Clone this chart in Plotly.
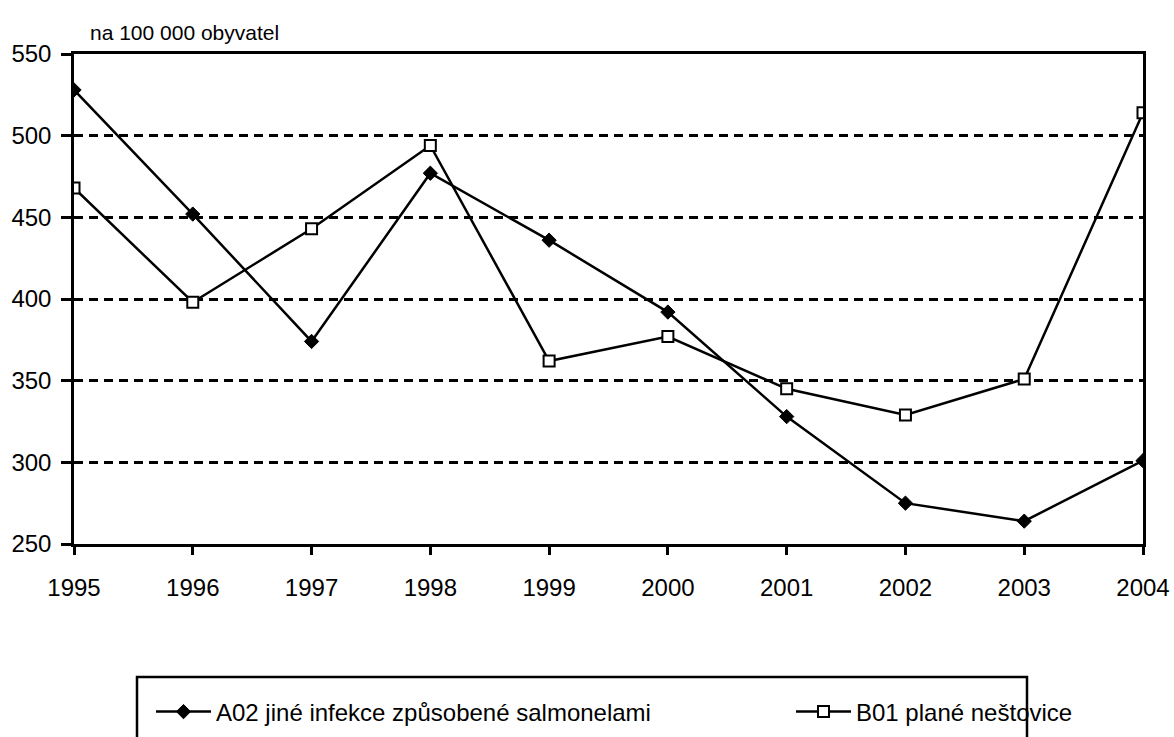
import plotly.graph_objects as go

years = [1995, 1996, 1997, 1998, 1999, 2000, 2001, 2002, 2003, 2004]
a02 = [528, 452, 374, 477, 436, 392, 328, 275, 264, 301]
b01 = [468, 398, 443, 494, 362, 377, 345, 329, 351, 514]
name_a02 = "A02 jiné infekce způsobené salmonelami"
name_b01 = "B01 plané neštovice"
y_title = "na 100 000 obyvatel"
y_ticks = [250, 300, 350, 400, 450, 500, 550]

FONT = "Liberation Sans Narrow, Arial Narrow, Liberation Sans, Arial, sans-serif"
W, H = 1174, 737

fig = go.Figure()
fig.add_trace(go.Scatter(
    x=years, y=a02, name=name_a02, mode="lines+markers", legend="legend",
    line=dict(color="black", width=2.5),
    marker=dict(symbol="diamond", size=11, color="black", line=dict(color="black", width=1)),
))
fig.add_trace(go.Scatter(
    x=years, y=b01, name=name_b01, mode="lines+markers", legend="legend2",
    line=dict(color="black", width=2.5),
    marker=dict(symbol="square", size=11, color="white", line=dict(color="black", width=2)),
))

leg_common = dict(
    orientation="h", xref="container", yref="container",
    xanchor="left", yanchor="middle",
    font=dict(family=FONT, size=24, color="black"),
    bgcolor="rgba(0,0,0,0)", borderwidth=0, itemwidth=55,
)

fig.update_layout(
    width=W, height=H,
    paper_bgcolor="white", plot_bgcolor="white",
    margin=dict(l=74, r=31, t=54, b=193, autoexpand=False),
    font=dict(family=FONT, size=24, color="black"),
    showlegend=True,
    legend=dict(x=151 / W, y=1 - 712 / H, **leg_common),
    legend2=dict(x=791 / W, y=1 - 712 / H, **leg_common),
    shapes=[dict(
        type="rect", xref="paper", yref="paper",
        x0=(137 - 74) / 1069, x1=(1027 - 74) / 1069,
        y0=(544 - 677) / 490, y1=-0.6,
        line=dict(color="black", width=2.5), fillcolor="rgba(0,0,0,0)",
    )],
    annotations=[dict(
        text=y_title, xref="paper", yref="paper", x=(88 - 74) / 1069, y=(544 - 33) / 490,
        xanchor="left", yanchor="middle", showarrow=False,
        font=dict(family=FONT, size=21, color="black"),
    )],
)

fig.update_xaxes(
    range=[1995, 2004], tickvals=years, ticktext=[str(y) for y in years],
    showgrid=False, zeroline=False,
    showline=True, linecolor="black", linewidth=2.5, mirror=True,
    ticks="outside", ticklen=8, tickwidth=2.5, tickcolor="black",
    ticklabelstandoff=12,
)
fig.update_yaxes(
    range=[250, 550], tickvals=y_ticks,
    showgrid=True, gridcolor="black", griddash="9px,6px", gridwidth=2.5,
    zeroline=False,
    showline=True, linecolor="black", linewidth=2.5, mirror=True,
    ticks="outside", ticklen=10, tickwidth=2.5, tickcolor="black",
    ticklabelstandoff=5,
)

fig.write_html(
    "out.html",
    config={"displayModeBar": False},
    post_script="document.body.style.margin='0';document.body.style.overflow='hidden';",
)
